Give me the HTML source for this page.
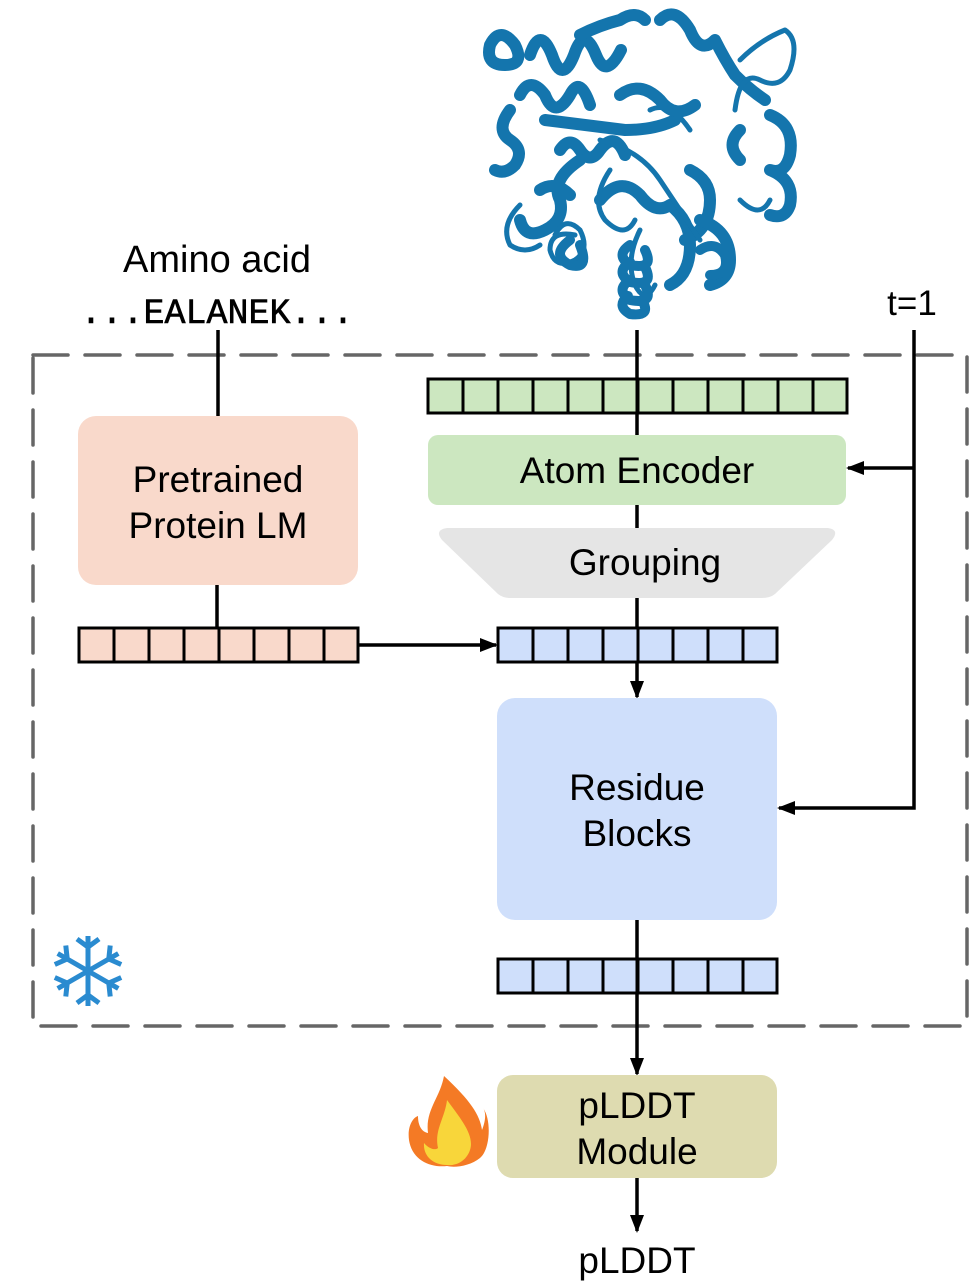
<!DOCTYPE html>
<html><head><meta charset="utf-8"><style>
html,body{margin:0;padding:0;background:#fff;}
svg{display:block;}
text{font-family:"Liberation Sans",sans-serif;fill:#000;}
</style></head><body>
<svg width="970" height="1288" viewBox="0 0 970 1288" xmlns="http://www.w3.org/2000/svg">
<defs>
<marker id="ar" markerWidth="18" markerHeight="16" refX="16" refY="8" orient="auto" markerUnits="userSpaceOnUse" viewBox="0 0 18 16">
<path d="M0,1 L18,8 L0,15 z" fill="#000"/></marker>
</defs>
<!-- protein -->
<g fill="none" stroke="#1475ad" stroke-linecap="round" stroke-linejoin="round">
<g stroke-width="12">
<path d="M490,45 q10,-20 25,0 q10,20 -10,20 q-20,0 -15,-20"/>
<path d="M530,55 q10,-30 22,0 q10,30 22,0 q10,-30 22,0 q10,25 25,-5"/>
<path d="M580,35 q20,-10 40,-15 q15,-10 25,0"/>
<path d="M660,20 q15,-15 30,10 q10,25 25,10 q10,20 20,35 q15,15 30,25"/>
<path d="M770,115 q25,10 20,40 q-5,20 -20,15 q25,10 20,35 q-5,15 -20,10"/>
<path d="M520,95 q10,-20 25,0 q10,25 25,0 q10,-20 20,10"/>
<path d="M510,110 q-15,20 0,30 q15,10 5,25 q-10,10 -20,5"/>
<path d="M545,120 q40,5 80,10 q30,0 50,-10"/>
<path d="M560,150 q10,-15 20,0 q10,15 20,0 q15,-20 25,5"/>
<path d="M580,160 q-30,20 -20,40 q5,20 -15,30 q-20,10 -25,-10"/>
<path d="M540,190 q15,-10 30,5"/>
<path d="M600,200 q20,-25 40,-5 q15,20 30,10 q20,15 20,40 q0,30 -20,40"/>
<path d="M690,170 q20,10 20,30 q0,30 -25,40"/>
<path d="M700,220 q30,10 30,40 q0,20 -20,25"/>
<path d="M620,95 q20,-15 40,5 q15,20 35,5"/>
<path d="M740,130 q-15,15 0,30"/>
</g>
<g stroke-width="5">
<path d="M740,60 q20,-20 45,-30 q15,10 5,40 q-10,20 -30,10 q-20,-10 -25,30"/>
<path d="M520,205 q-20,20 -10,40 q15,10 30,0"/>
<path d="M555,235 q10,-20 25,-5 q10,20 -5,30 q-20,10 -25,-10 q0,-20 25,-15"/>
<path d="M610,170 q-20,30 -5,50 q20,20 30,0"/>
<path d="M640,230 q-15,30 -5,55 q10,20 20,0"/>
<path d="M600,140 q40,10 60,40 q20,30 40,60"/>
<path d="M740,200 q20,20 30,0"/>
<path d="M650,110 q20,-10 40,20"/>
</g>
<g stroke-width="10">
<path d="M630,245 q-15,10 0,20 q25,5 15,-15 M630,262 q-15,10 0,20 q25,5 15,-15 M630,280 q-15,10 0,20 q25,5 15,-15 M628,296 q-12,10 2,18 q22,3 12,-14"/>
<path d="M570,240 q-20,15 0,25 q20,5 10,-20"/>
<path d="M700,250 q15,-10 25,5 q5,20 -15,20"/>
</g>
</g>
<!-- dashed frame -->
<rect x="33" y="355" width="934" height="671" fill="none" stroke="#666" stroke-width="3.5" stroke-dasharray="35,17" stroke-linecap="round"/>
<!-- texts top -->
<text x="217" y="272" font-size="38" text-anchor="middle">Amino acid</text>
<text x="217" y="323" font-size="35" text-anchor="middle" style="font-family:'Liberation Mono',monospace" stroke="#000" stroke-width="0.6">...EALANEK...</text>
<text x="912" y="315" font-size="35" text-anchor="middle">t=1</text>
<!-- lines -->
<g stroke="#000" stroke-width="3.5" fill="none">
<line x1="218" y1="330" x2="218" y2="417"/>
<line x1="217" y1="585" x2="217" y2="627"/>
<line x1="358" y1="645" x2="496" y2="645" marker-end="url(#ar)"/>
<line x1="637" y1="330" x2="637" y2="435"/>
<line x1="637" y1="505" x2="637" y2="528"/>
<line x1="637" y1="598" x2="637" y2="697" marker-end="url(#ar)"/>
<polyline points="914,330 914,808 779,808" marker-end="url(#ar)"/>
<line x1="914" y1="468" x2="848" y2="468" marker-end="url(#ar)"/>
<line x1="637" y1="920" x2="637" y2="1074" marker-end="url(#ar)"/>
<line x1="637" y1="1178" x2="637" y2="1231" marker-end="url(#ar)"/>
</g>
<!-- Pretrained -->
<rect x="78" y="416" width="280" height="169" rx="18" fill="#f9d9cb"/>
<text x="218" y="492" font-size="37" text-anchor="middle">Pretrained</text>
<text x="218" y="538" font-size="37" text-anchor="middle">Protein LM</text>
<!-- bars -->
<g stroke="#000" stroke-width="3">
<g fill="#f9d9cb">
<rect x="79" y="628" width="35" height="34"/><rect x="114" y="628" width="35" height="34"/><rect x="149" y="628" width="35" height="34"/><rect x="184" y="628" width="35" height="34"/><rect x="219" y="628" width="35" height="34"/><rect x="254" y="628" width="35" height="34"/><rect x="289" y="628" width="35" height="34"/><rect x="324" y="628" width="34" height="34"/>
</g>
<g fill="#cfdffb">
<rect x="498" y="628" width="35" height="34"/><rect x="533" y="628" width="35" height="34"/><rect x="568" y="628" width="35" height="34"/><rect x="603" y="628" width="35" height="34"/><rect x="638" y="628" width="35" height="34"/><rect x="673" y="628" width="35" height="34"/><rect x="708" y="628" width="35" height="34"/><rect x="743" y="628" width="34" height="34"/>
<rect x="498" y="959" width="35" height="34"/><rect x="533" y="959" width="35" height="34"/><rect x="568" y="959" width="35" height="34"/><rect x="603" y="959" width="35" height="34"/><rect x="638" y="959" width="35" height="34"/><rect x="673" y="959" width="35" height="34"/><rect x="708" y="959" width="35" height="34"/><rect x="743" y="959" width="34" height="34"/>
</g>
<g fill="#cce7c0">
<rect x="428" y="379" width="35" height="34"/><rect x="463" y="379" width="35" height="34"/><rect x="498" y="379" width="35" height="34"/><rect x="533" y="379" width="35" height="34"/><rect x="568" y="379" width="35" height="34"/><rect x="603" y="379" width="35" height="34"/><rect x="638" y="379" width="35" height="34"/><rect x="673" y="379" width="35" height="34"/><rect x="708" y="379" width="35" height="34"/><rect x="743" y="379" width="35" height="34"/><rect x="778" y="379" width="35" height="34"/><rect x="813" y="379" width="34" height="34"/>
</g>
</g>
<line x1="637" y1="379" x2="637" y2="413" stroke="#000" stroke-width="3"/>
<line x1="637" y1="959" x2="637" y2="993" stroke="#000" stroke-width="3"/>
<!-- Atom encoder -->
<rect x="428" y="435" width="418" height="70" rx="10" fill="#cce7c0"/>
<text x="637" y="483" font-size="37" text-anchor="middle">Atom Encoder</text>
<!-- Grouping -->
<path d="M447,528 L828,528 Q840,530 832,540 L775,594 Q770,598 762,598 L510,598 Q503,598 498,594 L442,540 Q434,530 447,528 Z" fill="#e5e5e5"/>
<text x="645" y="575" font-size="37" text-anchor="middle">Grouping</text>
<!-- Residue -->
<rect x="497" y="698" width="280" height="222" rx="18" fill="#cfdffb"/>
<text x="637" y="800" font-size="37" text-anchor="middle">Residue</text>
<text x="637" y="846" font-size="37" text-anchor="middle">Blocks</text>
<!-- pLDDT module -->
<rect x="497" y="1075" width="280" height="103" rx="16" fill="#dedbb0"/>
<text x="637" y="1118" font-size="37" text-anchor="middle">pLDDT</text>
<text x="637" y="1164" font-size="37" text-anchor="middle">Module</text>
<text x="637" y="1273" font-size="37" text-anchor="middle">pLDDT</text>
<!-- snowflake -->
<g stroke="#2a8bd0" stroke-width="5" stroke-linecap="butt" fill="none" transform="translate(88,971)">
<g id="arm"><line x1="0" y1="0" x2="0" y2="-35"/><polyline points="-11,-32 0,-24 11,-32"/></g>
<use href="#arm" transform="rotate(60)"/><use href="#arm" transform="rotate(120)"/><use href="#arm" transform="rotate(180)"/><use href="#arm" transform="rotate(240)"/><use href="#arm" transform="rotate(300)"/>
</g>
<!-- flame -->
<path d="M444,1076 C470,1100 480,1115 482,1130 C486,1120 486,1112 483,1108 C492,1120 490,1150 480,1158 C470,1166 455,1168 447,1166 C430,1168 412,1160 409,1140 C407,1125 414,1117 418,1116 C418,1126 422,1132 428,1133 C425,1110 440,1098 444,1076 Z" fill="#f47a25"/>
<path d="M447,1100 C460,1118 475,1135 470,1150 C466,1162 455,1166 447,1165 C433,1165 423,1156 424,1143 C430,1150 436,1150 438,1148 C434,1130 445,1118 447,1100 Z" fill="#f8d63a"/>
</svg>
</body></html>
